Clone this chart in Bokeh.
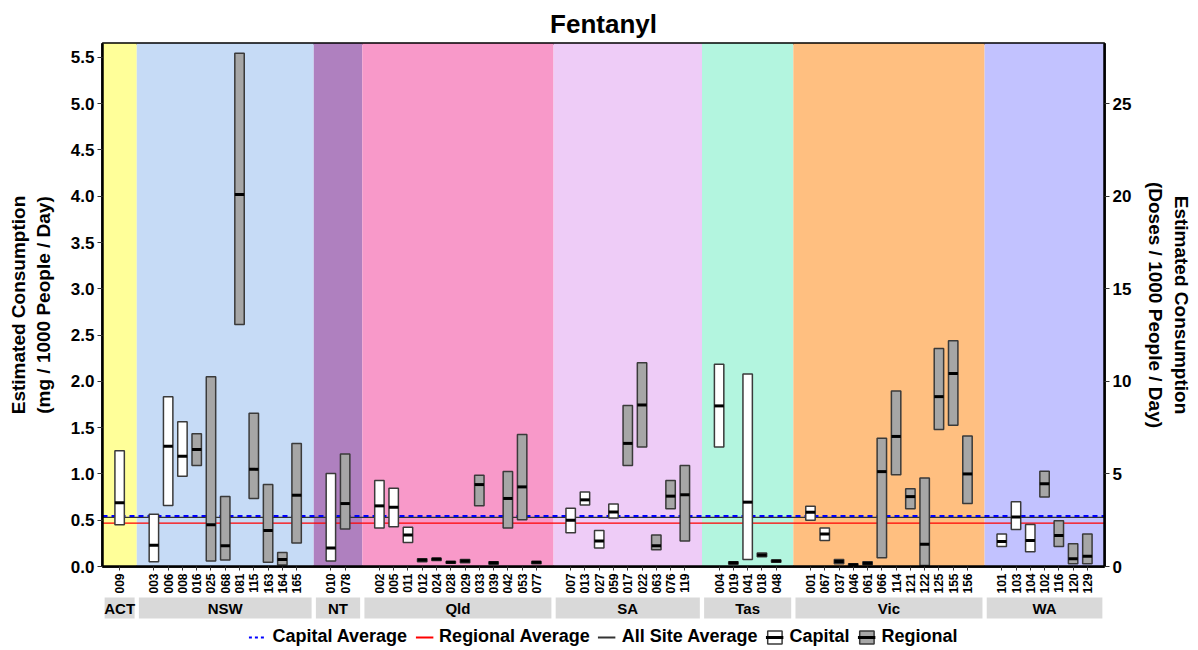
import math
from bokeh.plotting import figure
from bokeh.models import (ColumnDataSource, Span, LinearAxis, Range1d, FixedTicker,
                          Legend, LegendItem, NumeralTickFormatter, BoxAnnotation)
from bokeh.layouts import column
from bokeh.core.properties import value
from bokeh.embed import file_html
from bokeh.resources import INLINE

FONT = "Liberation Sans"
NAN = float("nan")

# ---------------- data ----------------
title_text = "Fentanyl"
states = ["ACT", "NSW", "NT", "Qld", "SA", "Tas", "Vic", "WA"]
state_colors = ["#FFFF99", "#C6DBF6", "#AF80BF", "#F899C9", "#EECCF7", "#B3F5DF", "#FFBF80", "#C2C2FF"]

site_codes = ["009",
              "003", "006", "008", "016", "025", "068", "081", "115", "163", "164", "165",
              "010", "078",
              "002", "005", "011", "012", "024", "028", "029", "033", "039", "042", "053", "077",
              "007", "013", "027", "059", "017", "022", "063", "076", "119",
              "004", "019", "041", "018", "048",
              "001", "067", "037", "046", "061", "066", "114", "121", "122", "125", "155", "156",
              "101", "103", "104", "102", "116", "120", "129"]
site_state = (["ACT"] * 1 + ["NSW"] * 11 + ["NT"] * 2 + ["Qld"] * 12 + ["SA"] * 9 +
              ["Tas"] * 5 + ["Vic"] * 12 + ["WA"] * 7)
site_type = (["Capital"] +
             ["Capital"] * 3 + ["Regional"] * 8 +
             ["Capital"] + ["Regional"] +
             ["Capital"] * 3 + ["Regional"] * 9 +
             ["Capital"] * 4 + ["Regional"] * 5 +
             ["Capital"] * 3 + ["Regional"] * 2 +
             ["Capital"] * 2 + ["Regional"] * 10 +
             ["Capital"] * 3 + ["Regional"] * 4)

low = [0.45,
       0.05, 0.66, 0.975, 1.09, 0.06, 0.07, 2.615, 0.735, 0.045, 0.015, 0.255,
       0.06, 0.405,
       0.415, 0.43, 0.26, 0.05, 0.065, 0.035, 0.04, 0.655, 0.025, 0.415, 0.505, 0.03,
       0.365, 0.665, 0.20, 0.525, 1.09, 1.29, 0.18, 0.625, 0.275,
       1.29, 0.025, 0.075, 0.105, 0.045,
       0.50, 0.28, 0.03, 0.01, 0.02, 0.095, 0.99, 0.625, 0.01, 1.48, 1.525, 0.68,
       0.215, 0.40, 0.16, 0.75, 0.215, 0.03, 0.03]
median = [0.69,
          0.23, 1.30, 1.19, 1.265, 0.45, 0.225, 4.02, 1.05, 0.39, 0.075, 0.77,
          0.20, 0.68,
          0.655, 0.64, 0.34, 0.07, 0.08, 0.047, 0.06, 0.885, 0.04, 0.735, 0.86, 0.045,
          0.50, 0.72, 0.275, 0.59, 1.33, 1.745, 0.225, 0.76, 0.775,
          1.735, 0.04, 0.695, 0.125, 0.06,
          0.585, 0.35, 0.055, 0.02, 0.035, 1.025, 1.405, 0.755, 0.24, 1.835, 2.085, 1.00,
          0.27, 0.535, 0.28, 0.895, 0.335, 0.085, 0.11]
high = [1.25,
        0.565, 1.835, 1.565, 1.435, 2.05, 0.755, 5.545, 1.655, 0.885, 0.15, 1.33,
        1.005, 1.215,
        0.93, 0.845, 0.425, 0.085, 0.09, 0.055, 0.075, 0.985, 0.05, 1.025, 1.425, 0.055,
        0.63, 0.805, 0.39, 0.675, 1.74, 2.20, 0.34, 0.93, 1.09,
        2.185, 0.05, 2.08, 0.145, 0.07,
        0.65, 0.415, 0.075, 0.03, 0.05, 1.385, 1.895, 0.84, 0.955, 2.355, 2.44, 1.41,
        0.35, 0.70, 0.455, 1.03, 0.495, 0.245, 0.35]

capital_avg = 0.545
regional_avg = 0.468
all_site_avg = 0.53
doses_per_mg = 5.0
y_max = 5.65
y_ticks = [0.0, 0.5, 1.0, 1.5, 2.0, 2.5, 3.0, 3.5, 4.0, 4.5, 5.0, 5.5]
dose_ticks = [0, 5, 10, 15, 20, 25]
left_title = "Estimated Consumption\n(mg / 1000 People / Day)"
right_title = "Estimated Consumption\n(Doses / 1000 People / Day)"

# ---------------- layout constants (pixels) ----------------
FIG_W = 1196
BORDER_LEFT, BORDER_RIGHT = 102, 92
MAIN_TOP, MAIN_DATA, MAIN_BOTTOM = 43, 523, 30
MAIN_H = MAIN_TOP + MAIN_DATA + MAIN_BOTTOM
STRIP_H = 649 - MAIN_H

# x positions in tenths of a slot: each state padded by 0.7 slot on both sides
UNIT, PAD, BOX_W = 10, 7, 6.6
xs, band_left, band_right = [], [], []
cursor = 0
for st in states:
    n = site_state.count(st)
    band_left.append(cursor)
    cursor += PAD
    for _ in range(n):
        xs.append(cursor + UNIT // 2)
        cursor += UNIT
    cursor += PAD
    band_right.append(cursor)
x_end = cursor
x_range = Range1d(0, x_end)

fills = ["white" if t == "Capital" else "#A6A6A6" for t in site_type]
src = ColumnDataSource(dict(
    x=xs, low=low, high=high, med=median, fill=fills, code=site_codes,
    x0=[x - BOX_W / 2 for x in xs], x1=[x + BOX_W / 2 for x in xs],
))

# ---------------- main figure ----------------
p = figure(width=FIG_W, height=MAIN_H, x_range=x_range, y_range=Range1d(0, y_max),
           output_backend="svg", toolbar_location=None, title=title_text,
           min_border_left=BORDER_LEFT, min_border_right=BORDER_RIGHT,
           min_border_top=MAIN_TOP, min_border_bottom=MAIN_BOTTOM)
p.title.align = "center"
p.title.text_font = FONT
p.title.text_font_size = "26px"
p.title.text_font_style = "bold"
p.title.text_color = "black"
p.title.offset = 0
p.title.standoff = 9
p.xgrid.visible = False
p.ygrid.visible = False
p.outline_line_color = "black"
p.outline_line_width = 2.5
p.background_fill_color = "white"
p.border_fill_color = "white"

for l, r, c in zip(band_left, band_right, state_colors):
    p.add_layout(BoxAnnotation(left=l, right=r, fill_color=c, fill_alpha=1.0,
                               line_color=None, level="underlay"))

p.add_layout(Span(location=all_site_avg, dimension="width", line_color="#333333",
                  line_width=1.3, level="underlay"))
p.add_layout(Span(location=regional_avg, dimension="width", line_color="#FF0000",
                  line_width=1.3, level="underlay"))
p.add_layout(Span(location=capital_avg, dimension="width", line_color="#0000FF",
                  line_dash="5 4", line_width=2, level="underlay"))

boxes = p.vbar(x="x", width=BOX_W, bottom="low", top="high", fill_color="fill",
               line_color="#3A3A3A", line_width=1.5, source=src)
meds = p.segment(x0="x0", x1="x1", y0="med", y1="med", line_color="black", line_width=3,
                 line_cap="butt", source=src)

# x axis: site codes, reading upwards
xa = p.xaxis[0]
xa.ticker = FixedTicker(ticks=xs)
xa.major_label_overrides = {x: c for x, c in zip(xs, site_codes)}
xa.major_label_orientation = math.pi / 2
xa.major_label_text_font = FONT
xa.major_label_text_font_style = "bold"
xa.major_label_text_font_size = "12px"
xa.major_label_text_color = "black"
xa.major_label_standoff = 3
xa.major_tick_out = 4
xa.major_tick_in = 0
xa.major_tick_line_color = "#333333"
xa.minor_tick_line_color = None
xa.axis_line_color = "black"
xa.axis_line_width = 2.5

# left axis
ya = p.yaxis[0]
ya.ticker = FixedTicker(ticks=y_ticks)
ya.formatter = NumeralTickFormatter(format="0.0")
ya.axis_label = left_title
ya.axis_label_standoff = 14

# right axis
p.extra_y_ranges = {"doses": Range1d(0, y_max * doses_per_mg)}
ra = LinearAxis(y_range_name="doses", ticker=FixedTicker(ticks=dose_ticks), axis_label=right_title)
ra.axis_label_standoff = 11
p.add_layout(ra, "right")

for ax in [ya, ra]:
    ax.minor_tick_line_color = None
    ax.major_label_text_font = FONT
    ax.major_label_text_font_style = "bold"
    ax.major_label_text_font_size = "17px"
    ax.major_label_text_color = "black"
    ax.major_label_standoff = 3
    ax.major_tick_out = 5
    ax.major_tick_in = 0
    ax.major_tick_line_color = "#333333"
    ax.axis_line_color = "black"
    ax.axis_line_width = 2.5
    ax.axis_label_text_font = FONT
    ax.axis_label_text_font_style = "bold"
    ax.axis_label_text_font_size = "19px"
    ax.axis_label_text_color = "black"

# ---------------- state strip + legend figure ----------------
s = figure(width=FIG_W, height=STRIP_H, x_range=x_range, y_range=Range1d(STRIP_H, 0),
           output_backend="svg", toolbar_location=None,
           x_axis_location=None, y_axis_location=None,
           min_border_left=BORDER_LEFT, min_border_right=BORDER_RIGHT,
           min_border_top=0, min_border_bottom=0)
s.grid.visible = False
s.outline_line_color = None
s.background_fill_color = "white"
s.border_fill_color = "white"

centers = [(l + r) / 2 for l, r in zip(band_left, band_right)]
s.quad(left=[l + 1.5 for l in band_left], right=[r - 1.5 for r in band_right],
       top=1, bottom=22, fill_color="#D9D9D9", line_color=None)
s.text(x=centers, y=11.5, text=states, text_align="center", text_baseline="middle",
       text_font=value(FONT), text_font_style="bold", text_font_size="15px", text_color="black")

# legend (average lines via one-row NaN renderers that draw nothing)
l_cap = s.line(x=[NAN], y=[NAN], line_color="#0000FF", line_dash="3 3", line_width=2)
l_reg = s.line(x=[NAN], y=[NAN], line_color="#FF0000", line_width=2)
l_all = s.line(x=[NAN], y=[NAN], line_color="#333333", line_width=2)
b_cap = s.vbar(x=[NAN], top=[NAN], width=1, fill_color="white", line_color="#3A3A3A", line_width=1.5)
m_cap = s.segment(x0=[NAN], y0=[NAN], x1=[NAN], y1=[NAN], line_color="black", line_width=3)
b_reg = s.vbar(x=[NAN], top=[NAN], width=1, fill_color="#A6A6A6", line_color="#3A3A3A", line_width=1.5)
m_reg = s.segment(x0=[NAN], y0=[NAN], x1=[NAN], y1=[NAN], line_color="black", line_width=3)

legend = Legend(items=[
    LegendItem(label="Capital Average", renderers=[l_cap]),
    LegendItem(label="Regional Average", renderers=[l_reg]),
    LegendItem(label="All Site Average", renderers=[l_all]),
    LegendItem(label="Capital", renderers=[b_cap, m_cap]),
    LegendItem(label="Regional", renderers=[b_reg, m_reg]),
], orientation="horizontal", location="bottom_center")
legend.label_text_font = FONT
legend.label_text_font_style = "bold"
legend.label_text_font_size = "18px"
legend.label_text_color = "black"
legend.border_line_color = None
legend.background_fill_alpha = 0
legend.glyph_width = 18
legend.glyph_height = 16
legend.label_standoff = 6
legend.spacing = 8
legend.padding = 1
legend.margin = 2
s.add_layout(legend, "center")

layout = column(p, s, spacing=0)
open("out.html", "w").write(file_html(layout, INLINE))
